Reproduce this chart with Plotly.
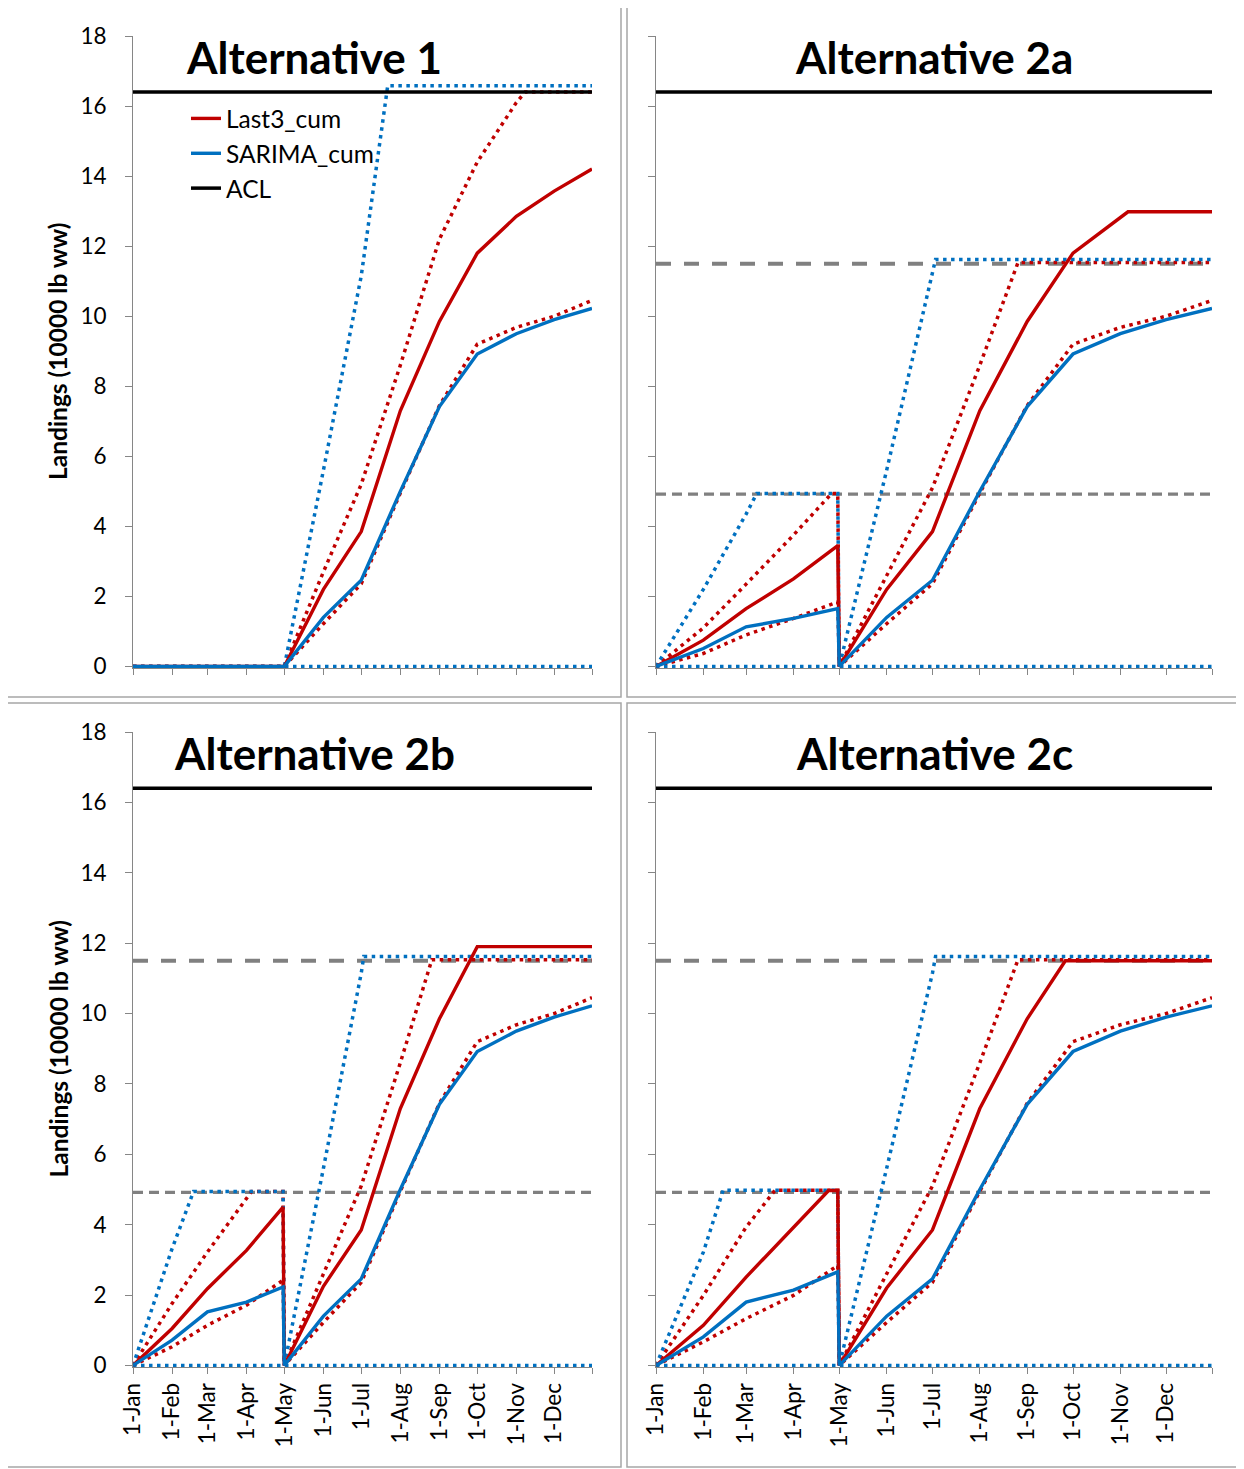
import plotly.graph_objects as go

W, H = 1244, 1469
OFF = 8  # page body margin of the rendered html

# ---------------- data ----------------
MONTH_TICKS = ["2013-01-01", "2013-02-01", "2013-03-01", "2013-04-01", "2013-05-01", "2013-06-01",
               "2013-07-01", "2013-08-01", "2013-09-01", "2013-10-01", "2013-11-01", "2013-12-01",
               "2013-12-31"]
MONTH_LABELS = ["1-Jan", "1-Feb", "1-Mar", "1-Apr", "1-May", "1-Jun", "1-Jul", "1-Aug", "1-Sep",
                "1-Oct", "1-Nov", "1-Dec", ""]
Y_TICKS = [0, 2, 4, 6, 8, 10, 12, 14, 16, 18]
YEAR_SPAN = ["2013-01-01", "2013-12-31"]

ACL = [16.4, 16.4]
QUOTA_JAN_APR = [4.92, 4.92]
QUOTA_MAY_DEC = [11.5, 11.5]
SARIMA_LO = [0, 0]

POST = ["2013-05-01", "2013-06-01", "2013-07-01", "2013-08-01", "2013-09-01", "2013-10-01",
        "2013-11-01", "2013-12-01", "2013-12-31"]
PRE = ["2013-01-01", "2013-02-01", "2013-03-01", "2013-04-01", "2013-04-30"]

# Alternative 1
A1_X = ["2013-01-01", "2013-04-30"] + POST
A1_LAST3 = [0, 0, 0, 2.2, 3.85, 7.3, 9.85, 11.8, 12.85, 13.57, 14.2]
A1_LAST3_LO = [0, 0, 0, 1.22, 2.36, 4.95, 7.45, 9.2, 9.68, 10.0, 10.45]
A1_SARIMA = [0, 0, 0, 1.4, 2.46, 5.0, 7.42, 8.92, 9.5, 9.9, 10.22]
A1_LAST3_HI_X = ["2013-01-01", "2013-04-30", "2013-05-01", "2013-06-01", "2013-07-01", "2013-08-01",
                 "2013-09-01", "2013-10-01", "2013-11-01", "2013-11-08", "2013-12-31"]
A1_LAST3_HI = [0, 0, 0, 2.7, 5.2, 8.6, 12.2, 14.4, 16.1, 16.4, 16.4]
A1_SARIMA_HI_X = ["2013-01-01", "2013-04-30", "2013-05-01", "2013-06-01", "2013-07-01", "2013-07-22",
                  "2013-12-31"]
A1_SARIMA_HI = [0, 0, 0, 5.6, 11.15, 16.58, 16.58]

# Alternative 2a
A2A_LAST3_X = PRE + ["2013-05-01", "2013-06-01", "2013-07-01", "2013-08-01", "2013-09-01",
                     "2013-10-01", "2013-11-01", "2013-11-06", "2013-12-31"]
A2A_LAST3 = [0, 0.75, 1.65, 2.5, 3.45, 0, 2.2, 3.85, 7.3, 9.85, 11.8, 12.8, 12.98, 12.98]
A2A_LAST3_LO = [0, 0.37, 0.9, 1.37, 1.84, 0, 1.22, 2.36, 4.95, 7.45, 9.2, 9.68, 10.0, 10.45]
A2A_SARIMA = [0, 0.51, 1.13, 1.37, 1.65, 0, 1.4, 2.46, 5.0, 7.42, 8.92, 9.5, 9.9, 10.22]
A2A_LAST3_HI_X = ["2013-01-01", "2013-02-01", "2013-03-01", "2013-04-01", "2013-04-26", "2013-04-30",
                  "2013-05-01", "2013-06-01", "2013-07-01", "2013-08-01", "2013-08-26", "2013-12-31"]
A2A_LAST3_HI = [0, 1.1, 2.35, 3.75, 4.94, 4.94, 0, 2.6, 5.1, 8.6, 11.53, 11.53]
A2A_SARIMA_HI_X = ["2013-01-01", "2013-02-01", "2013-03-01", "2013-03-08", "2013-04-30",
                   "2013-05-01", "2013-06-01", "2013-07-01", "2013-07-03", "2013-12-31"]
A2A_SARIMA_HI = [0, 2.2, 4.35, 4.94, 4.94, 0, 5.6, 11.15, 11.62, 11.62]

# Alternative 2b
A2B_LAST3_X = PRE + ["2013-05-01", "2013-06-01", "2013-07-01", "2013-08-01", "2013-09-01",
                     "2013-10-01", "2013-12-31"]
A2B_LAST3 = [0, 1.05, 2.18, 3.27, 4.5, 0, 2.25, 3.85, 7.3, 9.85, 11.9, 11.9]
A2B_LAST3_LO = [0, 0.53, 1.14, 1.71, 2.42, 0, 1.22, 2.36, 4.95, 7.45, 9.2, 9.68, 10.0, 10.45]
A2B_SARIMA = [0, 0.72, 1.52, 1.8, 2.23, 0, 1.4, 2.46, 5.0, 7.42, 8.92, 9.5, 9.9, 10.22]
A2B_LAST3_HI_X = ["2013-01-01", "2013-02-01", "2013-03-01", "2013-04-01", "2013-04-05", "2013-04-30",
                  "2013-05-01", "2013-06-01", "2013-07-01", "2013-08-01", "2013-08-26", "2013-12-31"]
A2B_LAST3_HI = [0, 1.76, 3.22, 4.73, 4.94, 4.94, 0, 2.6, 5.1, 8.6, 11.53, 11.53]
A2B_SARIMA_HI_X = ["2013-01-01", "2013-02-01", "2013-02-18", "2013-04-30",
                   "2013-05-01", "2013-06-01", "2013-07-01", "2013-07-03", "2013-12-31"]
A2B_SARIMA_HI = [0, 3.32, 4.94, 4.94, 0, 5.6, 11.15, 11.62, 11.62]

# Alternative 2c
A2C_LAST3_X = ["2013-01-01", "2013-02-01", "2013-03-01", "2013-04-01", "2013-04-24", "2013-04-30",
               "2013-05-01", "2013-06-01", "2013-07-01", "2013-08-01", "2013-09-01", "2013-09-26",
               "2013-12-31"]
A2C_LAST3 = [0, 1.14, 2.51, 3.93, 4.97, 4.97, 0, 2.2, 3.85, 7.3, 9.85, 11.5, 11.5]
A2C_LAST3_LO = [0, 0.67, 1.33, 1.99, 2.84, 0, 1.22, 2.36, 4.95, 7.45, 9.2, 9.68, 10.0, 10.45]
A2C_SARIMA = [0, 0.81, 1.8, 2.14, 2.66, 0, 1.4, 2.46, 5.0, 7.42, 8.92, 9.5, 9.9, 10.22]
A2C_LAST3_HI_X = ["2013-01-01", "2013-02-01", "2013-03-01", "2013-03-20", "2013-04-30",
                  "2013-05-01", "2013-06-01", "2013-07-01", "2013-08-01", "2013-08-26", "2013-12-31"]
A2C_LAST3_HI = [0, 1.99, 3.93, 4.98, 4.98, 0, 2.6, 5.1, 8.6, 11.53, 11.53]
A2C_SARIMA_HI_X = ["2013-01-01", "2013-02-01", "2013-02-14", "2013-04-30",
                   "2013-05-01", "2013-06-01", "2013-07-01", "2013-07-03", "2013-12-31"]
A2C_SARIMA_HI = [0, 3.22, 4.98, 4.98, 0, 5.6, 11.15, 11.62, 11.62]

TITLES = ["Alternative 1", "Alternative 2a", "Alternative 2b", "Alternative 2c"]

# ---------------- styling ----------------
RED = "#C00000"
BLUE = "#0070C0"
GRAY = "#808080"
AXIS = "#868686"
FONT = "Lato"
DOT = "3.5px,4.5px"

fig = go.Figure()

# plot areas in reference pixels (x0, x1, ytop, ybottom)
AREAS = [(133, 592, 36, 668), (656, 1212, 36, 668), (133, 592, 732, 1367), (656, 1212, 732, 1367)]
BORDERS = [(7, 621, 7, 697), (627, 1241, 7, 697), (7, 621, 703, 1467), (627, 1241, 703, 1467)]


def px(v):
    return (v - OFF) / W


def py(v):
    return 1 - (v - OFF) / H


panels = [
    dict(last3_x=A1_X, last3=A1_LAST3, lo_x=A1_X, lo=A1_LAST3_LO, sar_x=A1_X, sar=A1_SARIMA,
         hi_x=A1_LAST3_HI_X, hi=A1_LAST3_HI, shi_x=A1_SARIMA_HI_X, shi=A1_SARIMA_HI, quotas=False),
    dict(last3_x=A2A_LAST3_X, last3=A2A_LAST3, lo_x=PRE + POST, lo=A2A_LAST3_LO, sar_x=PRE + POST,
         sar=A2A_SARIMA, hi_x=A2A_LAST3_HI_X, hi=A2A_LAST3_HI, shi_x=A2A_SARIMA_HI_X,
         shi=A2A_SARIMA_HI, quotas=True),
    dict(last3_x=A2B_LAST3_X, last3=A2B_LAST3, lo_x=PRE + POST, lo=A2B_LAST3_LO, sar_x=PRE + POST,
         sar=A2B_SARIMA, hi_x=A2B_LAST3_HI_X, hi=A2B_LAST3_HI, shi_x=A2B_SARIMA_HI_X,
         shi=A2B_SARIMA_HI, quotas=True),
    dict(last3_x=A2C_LAST3_X, last3=A2C_LAST3, lo_x=PRE + POST, lo=A2C_LAST3_LO, sar_x=PRE + POST,
         sar=A2C_SARIMA, hi_x=A2C_LAST3_HI_X, hi=A2C_LAST3_HI, shi_x=A2C_SARIMA_HI_X,
         shi=A2C_SARIMA_HI, quotas=True),
]

layout = dict()
annotations = []
shapes = []

for i, (p, area, border) in enumerate(zip(panels, AREAS, BORDERS)):
    n = i + 1
    xa = "x" if n == 1 else f"x{n}"
    ya = "y" if n == 1 else f"y{n}"
    first = n == 1

    def add(x, y, color, width, dash=None, name=None, show=False, rank=1000):
        fig.add_trace(go.Scatter(
            x=x, y=y, mode="lines", xaxis=xa, yaxis=ya, name=name, showlegend=show,
            legendrank=rank, legendgroup=name, cliponaxis=False, hoverinfo="skip",
            line=dict(color=color, width=width, dash=dash)))

    if p["quotas"]:
        add(YEAR_SPAN, QUOTA_MAY_DEC, GRAY, 4, dash="15px,13px")
        add(YEAR_SPAN, QUOTA_JAN_APR, GRAY, 3.2, dash="10px,6px")
    add(p["lo_x"], p["lo"], RED, 3.5, dash=DOT)
    add(p["hi_x"], p["hi"], RED, 3.5, dash=DOT)
    add(YEAR_SPAN, SARIMA_LO, BLUE, 3.5, dash=DOT)
    add(p["shi_x"], p["shi"], BLUE, 3.5, dash=DOT)
    add(YEAR_SPAN, ACL, "#000000", 3.5, name="ACL", show=first, rank=3)
    add(p["last3_x"], p["last3"], RED, 3.4, name="Last3_cum", show=first, rank=1)
    add(p["sar_x"], p["sar"], BLUE, 3.4, name="SARIMA_cum", show=first, rank=2)

    x0, x1, yt, yb = area
    bottom_row = n >= 3
    left_col = n in (1, 3)
    xkey = "xaxis" if n == 1 else f"xaxis{n}"
    ykey = "yaxis" if n == 1 else f"yaxis{n}"
    layout[xkey] = dict(
        domain=[px(x0), px(x1)], anchor=ya, type="date", range=YEAR_SPAN, automargin=False,
        tickmode="array", tickvals=MONTH_TICKS, ticktext=MONTH_LABELS, tickangle=-90,
        showticklabels=bottom_row, ticks="outside", ticklen=6, tickcolor=AXIS, tickwidth=1,
        showline=True, linecolor=AXIS, linewidth=1, showgrid=False, zeroline=False,
        tickfont=dict(family=FONT, size=22.5, color="#000000"), fixedrange=True)
    layout[ykey] = dict(
        domain=[py(yb), py(yt)], anchor=xa, range=[-0.045, 18], tickmode="array", automargin=False,
        tickvals=Y_TICKS, showticklabels=left_col, ticks="outside", ticklen=7, tickcolor=AXIS,
        tickwidth=1, showline=True, linecolor=AXIS, linewidth=1, showgrid=False, zeroline=False,
        ticklabelstandoff=14, tickfont=dict(family=FONT, size=22.5, color="#000000"),
        fixedrange=True)

    bx0, bx1, byt, byb = border
    shapes.append(dict(type="rect", xref="paper", yref="paper", x0=px(bx0), x1=px(bx1),
                       y0=py(byb), y1=py(byt), line=dict(color="#A6A6A6", width=1.5),
                       layer="below"))
    annotations.append(dict(text=f"<b>{TITLES[i]}</b>", xref="paper", yref="paper",
                            x=px((bx0 + bx1) / 2), y=py(yt + 21), xanchor="center",
                            yanchor="middle", showarrow=False,
                            font=dict(family=FONT, size=44, color="#000000")))
    if left_col:
        annotations.append(dict(text="<b>Landings (10000 lb ww)</b>", xref="paper", yref="paper",
                                x=px(58), y=py((yt + yb) / 2), xanchor="center",
                                yanchor="middle", textangle=-90, showarrow=False,
                                font=dict(family=FONT, size=24.5, color="#000000")))

fig.update_layout(
    width=W, height=H, autosize=False, margin=dict(l=0, r=0, t=0, b=0, autoexpand=False),
    paper_bgcolor="white", plot_bgcolor="white",
    shapes=shapes, annotations=annotations,
    legend=dict(x=px(186), y=py(96), xanchor="left", yanchor="top", traceorder="grouped",
                tracegroupgap=0, bgcolor="rgba(0,0,0,0)",
                font=dict(family=FONT, size=24.5, color="#000000")),
    **layout)

fig.write_html("out.html")
